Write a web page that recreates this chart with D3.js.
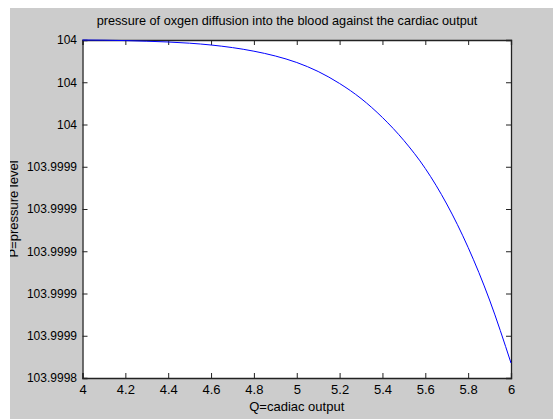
<!DOCTYPE html>
<html><head><meta charset="utf-8">
<script src="https://cdn.jsdelivr.net/npm/d3@7"></script>
<style>html,body{margin:0;padding:0;background:#fff;}svg{display:block;}</style>
</head><body>
<script>
// Data
const Q = [4.0,4.1,4.2,4.3,4.4,4.5,4.6,4.7,4.8,4.9,5.0,5.1,5.2,5.3,5.4,5.5,5.6,5.7,5.8,5.9,6.0];
const P = [104.00000000,103.99999991,103.99999972,103.99999943,103.99999905,103.99999849,103.99999763,
           103.99999640,103.99999470,103.99999243,103.99998935,103.99998509,103.99997941,103.99997231,
           103.99996331,103.99995243,103.99993917,103.99992237,103.99990178,103.99987692,103.99984710];
const xTicks = [4,4.2,4.4,4.6,4.8,5,5.2,5.4,5.6,5.8,6];
const xTickLabels = ["4","4.2","4.4","4.6","4.8","5","5.2","5.4","5.6","5.8","6"];
const yTicks = [103.99984,103.99986,103.99988,103.9999,103.99992,103.99994,103.99996,103.99998,104.0];
const yTickLabels = ["103.9998","103.9999","103.9999","103.9999","103.9999","103.9999","104","104","104"];
const titleText = "pressure of oxgen diffusion into the blood against the cardiac output";
const xLabelText = "Q=cadiac output";
const yLabelText = "P=pressure level";

const W = 553, H = 419;
const m = {left: 82.5, right: 511, top: 40, bottom: 378};
const font = "'Liberation Sans', Arial, sans-serif";

const svg = d3.select("body").append("svg").attr("width", W).attr("height", H);
svg.append("rect").attr("x",0).attr("y",0).attr("width",W).attr("height",H).attr("fill","#cccccc");

const x = d3.scaleLinear().domain([4,6]).range([m.left, m.right]);
const y = d3.scaleLinear().domain([103.99984, 104.0]).range([m.bottom, m.top]);

svg.append("rect").attr("x", m.left).attr("y", m.top)
  .attr("width", m.right - m.left).attr("height", m.bottom - m.top).attr("fill", "#fff");

const tl = 5;
const gB = svg.append("g").attr("transform", `translate(0,${m.bottom})`)
  .call(d3.axisBottom(x).tickValues(xTicks).tickSize(-tl).tickPadding(7)
    .tickFormat((d,i)=>xTickLabels[i]));
const gT = svg.append("g").attr("transform", `translate(0,${m.top})`)
  .call(d3.axisTop(x).tickValues(xTicks).tickSize(-tl).tickFormat(""));
const gL = svg.append("g").attr("transform", `translate(${m.left},0)`)
  .call(d3.axisLeft(y).tickValues(yTicks).tickSize(-tl).tickPadding(5.5)
    .tickFormat((d,i)=>yTickLabels[i]));
const gR = svg.append("g").attr("transform", `translate(${m.right},0)`)
  .call(d3.axisRight(y).tickValues(yTicks).tickSize(-tl).tickFormat(""));

[gB,gT,gL,gR].forEach(g=>{
  g.select(".domain").attr("stroke","#222").attr("stroke-width",1.3);
  g.selectAll(".tick line").attr("stroke","#222");
  g.selectAll("text").attr("fill","#000").style("font-family",font);
});
gB.selectAll("text").style("font-size","13px");
gL.selectAll("text").style("font-size","12px");

svg.append("path").datum(Q.map((q,i)=>[q,P[i]]))
  .attr("fill","none").attr("stroke","#0000ff").attr("stroke-width",1)
  .attr("d", d3.line().x(d=>x(d[0])).y(d=>y(d[1])).curve(d3.curveMonotoneX));

svg.append("text").attr("x", 287).attr("y", 25).attr("text-anchor","middle")
  .style("font-family",font).style("font-size","12.7px").text(titleText);
svg.append("text").attr("x", (m.left+m.right)/2).attr("y", 411).attr("text-anchor","middle")
  .style("font-family",font).style("font-size","13px").text(xLabelText);
svg.append("text").attr("transform", `translate(17.5,${(m.top+m.bottom)/2}) rotate(-90)`)
  .attr("text-anchor","middle")
  .style("font-family",font).style("font-size","13px").text(yLabelText);

svg.append("rect").attr("x",0).attr("y",0).attr("width",10).attr("height",H).attr("fill","#fff");
svg.append("rect").attr("x",0).attr("y",0).attr("width",W).attr("height",8).attr("fill","#fff");
</script>
</body></html>
